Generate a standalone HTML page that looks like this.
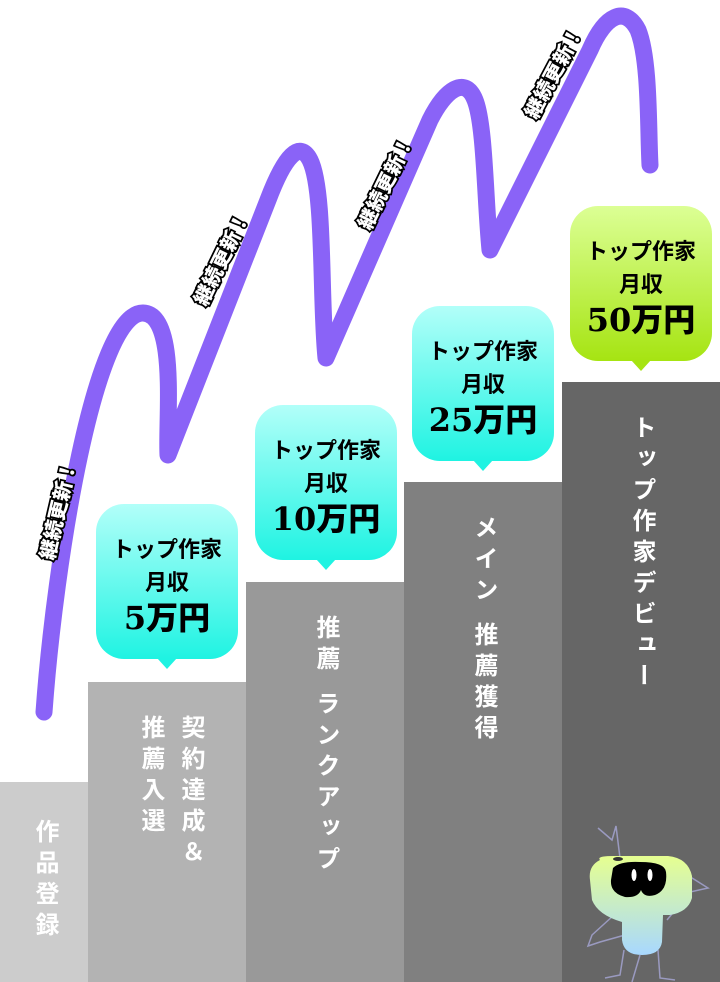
<!DOCTYPE html>
<html><head><meta charset="utf-8"><style>
html,body{margin:0;padding:0;background:#fff;}
#c{position:relative;width:720px;height:982px;overflow:hidden;font-family:"Liberation Sans","Noto Sans CJK JP",sans-serif;}
.col{position:absolute;bottom:0;}
.v{position:absolute;writing-mode:vertical-rl;color:#fff;font-weight:bold;font-size:24px;letter-spacing:7px;line-height:40px;white-space:pre;}
.b{position:absolute;width:142px;height:155px;border-radius:28px;text-align:center;color:#000;}
.b .t{position:absolute;left:0;right:0;font-size:22px;font-weight:bold;line-height:26px;}
.b .a{top:33px}.b .m{top:66px}
.b .p{top:95px;font-size:32px;line-height:38px;font-weight:900;}
.b .p span{font-family:"DejaVu Serif","Liberation Serif",serif;font-weight:900;}
.b:after{content:"";position:absolute;left:61px;bottom:-10px;border-left:10px solid transparent;border-right:10px solid transparent;border-top:11px solid var(--tc);}
.cy{background:linear-gradient(#b2fff9,#1ff3e2);--tc:#1ff3e2;}
.gr{background:linear-gradient(#dcff95,#a6e412);--tc:#a6e412;}
</style></head><body><div id="c">
<div class="col" style="left:0;width:88px;top:782px;background:#cccccc"></div>
<div class="col" style="left:88px;width:158px;top:682px;background:#b3b3b3"></div>
<div class="col" style="left:246px;width:158px;top:582px;background:#999999"></div>
<div class="col" style="left:404px;width:158px;top:482px;background:#808080"></div>
<div class="col" style="left:562px;width:158px;top:382px;background:#666666"></div>

<div class="v" style="left:24px;top:819px;">作品登録</div>
<div class="v" style="left:130px;top:715px;">契約達成＆
推薦入選</div>
<div class="v" style="left:305px;top:615px;">推薦 ランクアップ</div>
<div class="v" style="left:463px;top:515px;">メイン 推薦獲得</div>
<div class="v" style="left:621px;top:415px;">トップ作家デビュー</div>

<svg style="position:absolute;left:0;top:0" width="720" height="982">
<path d="M44,712 C55,560 95,312 143,313 C178,314 166,420 168,455 L268,200 C285,155 300,140 310,160 C325,190 320,300 326,358 L430,120 C445,90 465,75 475,100 C485,125 485,200 490,250 L590,50 C605,15 625,5 638,30 C650,60 648,130 650,165" fill="none" stroke="#8a63f7" stroke-width="17" stroke-linecap="round" stroke-linejoin="round"/>
<g font-family="Liberation Sans, Noto Sans CJK JP, sans-serif" font-weight="900" font-size="20" fill="#fff" stroke="#000" stroke-width="3.5" paint-order="stroke" text-anchor="middle">
<text transform="translate(65,512) rotate(-77)">継続更新！</text>
<text transform="translate(228,262) rotate(-64)">継続更新！</text>
<text transform="translate(392,186) rotate(-64)">継続更新！</text>
<text transform="translate(560,76) rotate(-62)">継続更新！</text>
</g>
<defs><linearGradient id="mg" x1="0" y1="0" x2="0" y2="1"><stop offset="0" stop-color="#e6ff90"/><stop offset="1" stop-color="#a8d8ff"/></linearGradient></defs>
<g stroke="#9a9ac0" stroke-width="1.5" fill="none">
<polyline points="598,828 612,840 616,826 620,858"/>
<polyline points="625,905 592,935 588,946 600,942 625,935"/>
<polyline points="655,900 675,885 692,878 708,888 690,892 667,920"/>
<polyline points="624,950 620,975 605,978"/>
<polyline points="640,955 632,982"/>
<polyline points="658,950 660,978 675,980"/>
</g>
<path d="M600,860 Q596,856 614,856 L668,856 Q688,858 692,876 L692,898 Q688,912 670,915 L663,915 L662,942 Q660,955 642,955 Q624,955 622,940 L622,922 Q598,915 592,900 L590,880 Q588,866 600,860Z" fill="url(#mg)"/>
<ellipse cx="618" cy="859" rx="5" ry="2" fill="#333"/>
<path d="M613,868 Q620,861 640,862 Q665,862 666,872 Q668,890 655,895 Q644,898 641,890 Q638,898 625,897 Q610,893 611,880Z" fill="#000"/>
<ellipse cx="634" cy="875" rx="2.5" ry="6" fill="#fff"/>
<ellipse cx="650" cy="875" rx="2.5" ry="6" fill="#fff"/>
</svg>

<div class="b cy" style="left:96px;top:504px;"><div class="t a">トップ作家</div><div class="t m">月収</div><div class="t p"><span>5</span>万円</div></div>
<div class="b cy" style="left:255px;top:405px;"><div class="t a">トップ作家</div><div class="t m">月収</div><div class="t p"><span>10</span>万円</div></div>
<div class="b cy" style="left:412px;top:306px;"><div class="t a">トップ作家</div><div class="t m">月収</div><div class="t p"><span>25</span>万円</div></div>
<div class="b gr" style="left:570px;top:206px;"><div class="t a">トップ作家</div><div class="t m">月収</div><div class="t p"><span>50</span>万円</div></div>
</div></body></html>
